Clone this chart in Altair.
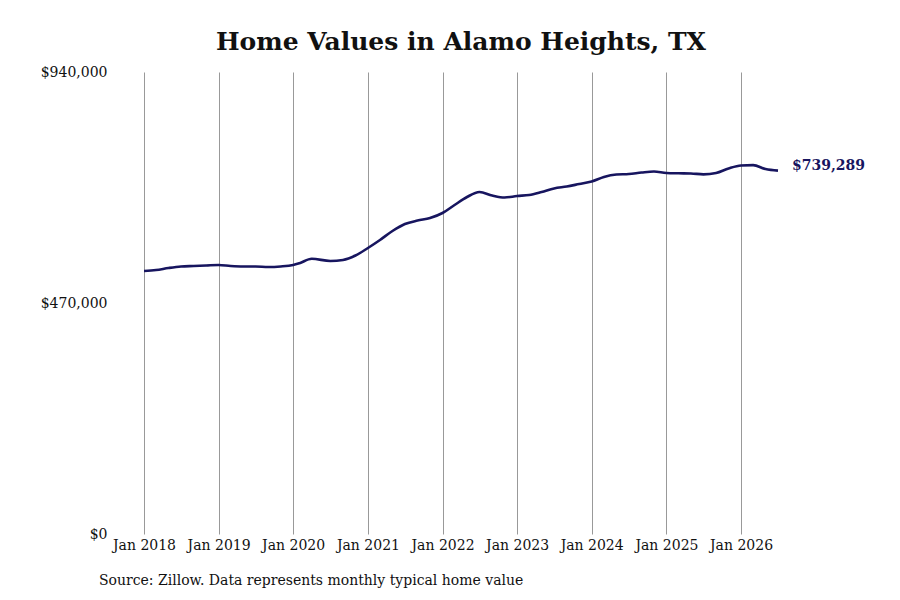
import altair as alt
import pandas as pd

# ---- data ----
dates = [
    "2018-01-01", "2018-03-01", "2018-05-01", "2018-07-01", "2018-09-01", "2018-11-01",
    "2019-01-01", "2019-03-01", "2019-05-01", "2019-07-01", "2019-09-01", "2019-11-01",
    "2020-01-01", "2020-02-01", "2020-04-01", "2020-07-01", "2020-09-01", "2020-11-01",
    "2021-01-01", "2021-03-01", "2021-05-01", "2021-07-01", "2021-09-01", "2021-11-01",
    "2022-01-01", "2022-03-01", "2022-05-01", "2022-07-01", "2022-09-01", "2022-11-01",
    "2023-01-01", "2023-03-01", "2023-05-01", "2023-07-01", "2023-09-01", "2023-11-01",
    "2024-01-01", "2024-03-01", "2024-05-01", "2024-07-01", "2024-09-01", "2024-11-01",
    "2025-01-01", "2025-03-01", "2025-05-01", "2025-07-01", "2025-09-01", "2025-11-01",
    "2026-01-01", "2026-03-01", "2026-05-01", "2026-07-01",
]
values = [
    535100, 537100, 541200, 544300, 545300, 546300,
    547300, 545300, 544300, 544300, 543200, 544300,
    547300, 551000, 560100, 555500, 557500, 566600,
    581900, 598200, 616500, 630700, 637800, 642900,
    653100, 669400, 685700, 695800, 688700, 684600,
    687700, 689700, 695800, 703000, 707000, 712100,
    717200, 726400, 731400, 732500, 735500, 737600,
    734500, 733900, 733500, 731800, 734500, 743700,
    749800, 750500, 742600, 739289,
]
y_ticks = [0, 470000, 940000]
x_tick_years = list(range(2018, 2027))
title_text = "Home Values in Alamo Heights, TX"
source_text = "Source: Zillow. Data represents monthly typical home value"

df = pd.DataFrame({"date": dates, "value": values})
last_df = df.tail(1).copy()
last_df["label"] = last_df["value"].map(lambda v: f"${v:,.0f}")
src_df = pd.DataFrame({"t": [source_text]})

NAVY = "#17155f"
SERIF = "DejaVu Serif"
W, H = 634, 462

x_enc = alt.X(
    "date:T",
    scale=alt.Scale(
        type="utc",
        domain=[alt.DateTime(year=2018, month=1, date=1, utc=True),
                alt.DateTime(year=2026, month=7, date=1, utc=True)],
    ),
    axis=alt.Axis(
        values=[alt.DateTime(year=y, month=1, date=1, utc=True) for y in x_tick_years],
        format="%b %Y",
        grid=True, gridColor="#999999", gridWidth=1,
        ticks=False, domain=False,
        labelFont=SERIF, labelFontSize=14, labelColor="#111111",
        labelPadding=4, title=None, labelFlush=False,
    ),
)
y_enc = alt.Y(
    "value:Q",
    scale=alt.Scale(domain=[0, 940000], nice=False),
    axis=alt.Axis(
        values=y_ticks, format="$,.0f",
        grid=False, ticks=False, domain=False,
        labelFont=SERIF, labelFontSize=14, labelColor="#111111",
        labelPadding=37, title=None,
    ),
)

line = alt.Chart(df).mark_line(
    color=NAVY, strokeWidth=2.6, interpolate="monotone"
).encode(x=x_enc, y=y_enc)

end_label = alt.Chart(last_df).mark_text(
    align="left", baseline="middle", dx=14, dy=-5,
    font=SERIF, fontSize=14, fontWeight="bold", color=NAVY,
).encode(x="date:T", y="value:Q", text="label:N")

source = alt.Chart(src_df).mark_text(
    align="left", baseline="middle", font=SERIF, fontSize=14, color="#111111",
).encode(x=alt.value(-45), y=alt.value(H + 47), text="t:N")

chart = alt.layer(line, end_label, source).properties(
    width=W, height=H,
    title=alt.Title(
        title_text, font=SERIF, fontSize=25, fontWeight="bold", color="#111111",
        anchor="middle", frame="group", offset=10,
    ),
    autosize=alt.AutoSizeParams(type="none"),
    padding={"left": 136, "top": 64, "right": 114, "bottom": 56},
    background="white",
).configure_view(stroke=None)

chart.save("out.html", embed_options={"renderer": "svg", "actions": False})
